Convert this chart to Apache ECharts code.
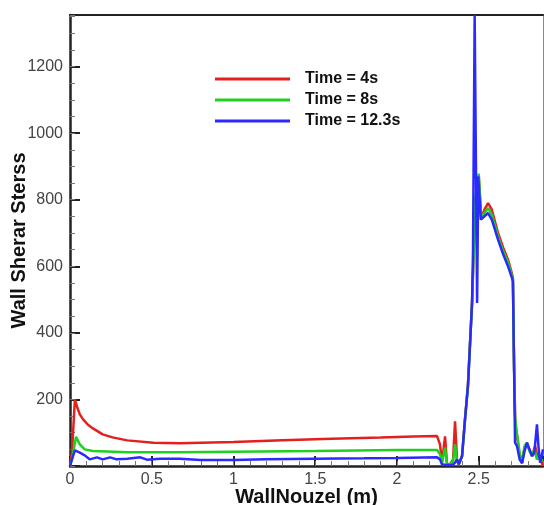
<!DOCTYPE html>
<html>
<head>
<meta charset="utf-8">
<script src="https://cdn.jsdelivr.net/npm/echarts@6/dist/echarts.min.js"></script>
<style>
html,body{margin:0;padding:0;background:#fff;}
#chart{width:544px;height:505px;}
</style>
</head>
<body>
<div id="chart"></div>
<script>
// ---- data ----
var seriesNames = ['Time = 4s', 'Time = 8s', 'Time = 12.3s'];
var xTickValues = [0, 0.5, 1, 1.5, 2, 2.5];
var yTickValues = [200, 400, 600, 800, 1000, 1200];

var redX = [0, 0.012, 0.03, 0.045, 0.06, 0.08, 0.11, 0.14, 0.2, 0.26, 0.35, 0.51, 0.67, 1.0, 1.3, 1.6, 1.9, 2.1, 2.245, 2.263, 2.275, 2.285, 2.294, 2.306, 2.324, 2.343, 2.355, 2.367, 2.378, 2.398, 2.416, 2.434, 2.459, 2.48, 2.50, 2.515, 2.535, 2.557, 2.58, 2.618, 2.65, 2.679, 2.703, 2.709, 2.716, 2.724, 2.735, 2.75, 2.765, 2.78, 2.795, 2.81, 2.826, 2.845, 2.86, 2.875, 2.885, 2.893];
var redY = [0, 40, 200, 175, 155, 140, 124, 113, 95, 86, 77, 70, 68, 72, 77, 82, 86, 89, 90, 65, 11, 5, 89, 5, 5, 20, 134, 20, 5, 30, 140, 245, 490, 800, 870, 745, 770, 790, 770, 700, 655, 620, 578, 565, 300, 120, 90, 30, 10, 55, 65, 50, 30, 60, 25, 30, 10, 0];

var greenX = [0, 0.012, 0.037, 0.06, 0.09, 0.14, 0.35, 0.67, 1.0, 1.5, 2.0, 2.245, 2.263, 2.275, 2.285, 2.294, 2.306, 2.324, 2.343, 2.355, 2.367, 2.378, 2.398, 2.416, 2.434, 2.459, 2.48, 2.50, 2.515, 2.535, 2.557, 2.58, 2.618, 2.65, 2.679, 2.703, 2.709, 2.716, 2.722, 2.734, 2.75, 2.765, 2.78, 2.795, 2.81, 2.826, 2.84, 2.856, 2.87, 2.893];
var greenY = [0, 20, 88, 65, 50, 45, 41, 41, 43, 45, 48, 48, 35, 8, 5, 55, 5, 5, 15, 65, 15, 5, 30, 140, 240, 490, 810, 878, 745, 760, 775, 755, 690, 645, 612, 572, 560, 300, 149, 95, 40, 10, 60, 70, 45, 30, 50, 20, 25, 15];

var blueX = [0, 0.012, 0.03, 0.06, 0.09, 0.12, 0.165, 0.2, 0.245, 0.285, 0.35, 0.43, 0.47, 0.55, 0.67, 0.8, 1.0, 1.2, 1.5, 1.8, 2.0, 2.245, 2.263, 2.275, 2.3, 2.34, 2.355, 2.367, 2.378, 2.385, 2.398, 2.416, 2.434, 2.459, 2.465, 2.475, 2.49, 2.497, 2.513, 2.535, 2.557, 2.58, 2.618, 2.65, 2.679, 2.703, 2.709, 2.716, 2.722, 2.734, 2.75, 2.765, 2.78, 2.795, 2.81, 2.826, 2.84, 2.856, 2.865, 2.875, 2.885, 2.893];
var blueY = [0, 20, 47, 40, 32, 20, 26, 20, 26, 20, 22, 26, 19, 22, 22, 18, 18, 20, 22, 23, 24, 26, 20, 5, 3, 3, 10, 20, 5, 10, 30, 140, 239, 490, 650, 1355, 490, 870, 740, 750, 760, 740, 680, 635, 600, 565, 555, 300, 70, 60, 20, 8, 45, 70, 50, 30, 40, 125, 60, 10, 30, 50];

var X_MIN = 0, X_MAX = 2.893, Y_MIN = 0, Y_MAX = 1355;

function pairs(xs, ys) { return xs.map(function (x, i) { return [x, ys[i]]; }); }

var chart = echarts.init(document.getElementById('chart'), null, {renderer: 'canvas'});
var font = 'Liberation Sans, Arial, sans-serif';
var colors = ['#e4201f', '#1fd11f', '#2a2aff'];

function isTick(list, v) { return list.some(function (t) { return Math.abs(t - v) < 1e-6; }); }

var option = {
  animation: false,
  backgroundColor: '#fff',
  grid: {left: 70, right: 1, top: 15, bottom: 39, show: false, containLabel: false, outerBoundsMode: 'none'},
  legend: {
    orient: 'vertical', left: 215, top: 71, padding: 0, itemGap: 5,
    itemWidth: 75, itemHeight: 3, icon: 'rect',
    textStyle: {fontFamily: font, fontWeight: 'bold', fontSize: 16, color: '#111', lineHeight: 16, padding: [0, 0, 0, 10]},
    data: seriesNames
  },
  xAxis: [
    {
      type: 'value', min: X_MIN, max: X_MAX, interval: 0.5, position: 'bottom',
      name: 'WallNouzel (m)', nameLocation: 'middle', nameGap: 21, nameMoveOverlap: false,
      nameTextStyle: {fontFamily: font, fontWeight: 'bold', fontSize: 20, color: '#111'},
      axisLine: {onZero: false, lineStyle: {color: '#222', width: 2.5}},
      axisTick: {inside: true, length: 10, lineStyle: {color: '#222', width: 2}},
      axisLabel: {margin: 6, fontFamily: font, fontSize: 16, color: '#444',
        formatter: function (v) { return isTick(xTickValues, v) ? String(v) : ''; }},
      splitLine: {show: false}
    },
    {
      type: 'value', min: X_MIN, max: X_MAX, interval: 0.1, position: 'bottom',
      axisLine: {show: false}, axisLabel: {show: false}, splitLine: {show: false},
      axisTick: {inside: true, length: 5, lineStyle: {color: '#777', width: 1}}
    },
    {
      type: 'value', min: X_MIN, max: X_MAX, position: 'top',
      axisLine: {onZero: false, lineStyle: {color: '#222', width: 2}},
      axisTick: {show: false}, axisLabel: {show: false}, splitLine: {show: false}
    }
  ],
  yAxis: [
    {
      type: 'value', min: Y_MIN, max: Y_MAX, interval: 200, position: 'left',
      name: 'Wall Sherar Sterss', nameLocation: 'middle', nameGap: 41, nameMoveOverlap: false,
      nameTextStyle: {fontFamily: font, fontWeight: 'bold', fontSize: 20, color: '#111'},
      axisLine: {onZero: false, lineStyle: {color: '#222', width: 2.5}},
      axisTick: {inside: true, length: 10, lineStyle: {color: '#222', width: 2}},
      axisLabel: {margin: 7, fontFamily: font, fontSize: 16, color: '#444',
        formatter: function (v) { return isTick(yTickValues, v) ? String(v) : ''; }},
      splitLine: {show: false}
    },
    {
      type: 'value', min: Y_MIN, max: Y_MAX, interval: 50, position: 'left',
      axisLine: {show: false}, axisLabel: {show: false}, splitLine: {show: false},
      axisTick: {inside: true, length: 5, lineStyle: {color: '#777', width: 1}}
    },
    {
      type: 'value', min: Y_MIN, max: Y_MAX, position: 'right',
      axisLine: {onZero: false, lineStyle: {color: '#888', width: 1}},
      axisTick: {show: false}, axisLabel: {show: false}, splitLine: {show: false}
    }
  ],
  series: [
    {name: seriesNames[0], type: 'line', data: pairs(redX, redY)},
    {name: seriesNames[1], type: 'line', data: pairs(greenX, greenY)},
    {name: seriesNames[2], type: 'line', data: pairs(blueX, blueY)}
  ].map(function (s, i) {
    s.xAxisIndex = 0; s.yAxisIndex = 0;
    s.showSymbol = false; s.symbol = 'none'; s.clip = true;
    s.color = colors[i];
    s.lineStyle = {color: colors[i], width: 2.5};
    s.itemStyle = {color: colors[i]};
    return s;
  })
};
chart.setOption(option);
</script>
</body>
</html>
